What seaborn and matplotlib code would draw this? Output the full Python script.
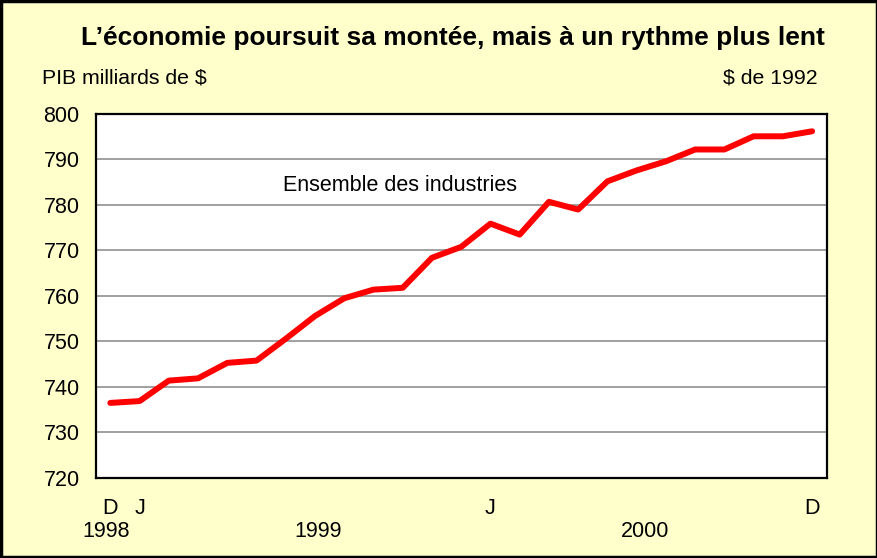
import matplotlib
matplotlib.use("Agg")
import matplotlib.pyplot as plt
import matplotlib.transforms as mtransforms
from matplotlib.patches import Rectangle
import pandas as pd
import seaborn as sns

# PIB, milliards de dollars de 1992, déc. 1998 à déc. 2000
months = list(range(25))
gdp = [736.5, 736.9, 741.4, 741.9, 745.3, 745.8, 750.6, 755.6, 759.5,
       761.4, 761.8, 768.4, 770.8, 775.9, 773.5, 780.7, 779.0, 785.2,
       787.6, 789.6, 792.2, 792.2, 795.1, 795.1, 796.2]
month_labels = {0: "D", 1: "J", 13: "J", 24: "D"}
year_labels = ["1998", "1999", "2000"]
year_pos = [-0.15, 7.1, 18.3]

df = pd.DataFrame({"mois": months, "pib": gdp})

sns.set_theme(style="white")
plt.rcParams["font.family"] = ["Liberation Sans", "DejaVu Sans"]
plt.rcParams["text.color"] = "black"

bg = "#FFFFCC"
fig = plt.figure(figsize=(8.78, 5.58), dpi=100, facecolor=bg)
ax = fig.add_axes([0.109, 0.1434, 0.8326, 0.6523])
ax.set_facecolor("white")

for v in range(730, 800, 10):
    ax.axhline(v, color="#999999", lw=1.3, zorder=1)

sns.lineplot(data=df, x="mois", y="pib", ax=ax, color="#FF0000", lw=4.3,
             solid_capstyle="round", zorder=3)

ax.set_xlim(-0.5, 24.5)
ax.set_ylim(720, 800)
ax.set_yticks(range(720, 801, 10))
ax.tick_params(axis="y", length=0, labelsize=15.5, pad=11.5, colors="black")
ax.set_xticks([m + 0.5 for m in range(24)])
ax.set_xticklabels([])
ax.tick_params(axis="x", direction="in", length=7, width=1.5, colors="black")
ax.set_xlabel("")
ax.set_ylabel("")

trans = mtransforms.blended_transform_factory(ax.transData, ax.transAxes)
for m, lab in month_labels.items():
    ax.text(m, -0.083, lab, transform=trans, ha="center", va="center", fontsize=15.5)
for p, lab in zip(year_pos, year_labels):
    ax.text(p, -0.148, lab, transform=trans, ha="center", va="center", fontsize=15.5)

for s in ax.spines.values():
    s.set_color("black")
    s.set_linewidth(1.6)

ax.text(9.9, 784.3, "Ensemble des industries", ha="center", va="center",
        fontsize=15.5, zorder=4,
        bbox=dict(facecolor="white", edgecolor="none", pad=2))

fig.text(453 / 878, 0.932, "L\u2019économie poursuit sa montée, mais à un rythme plus lent",
         ha="center", va="center", fontsize=19, fontweight="bold")
fig.text(42 / 878, 0.860, "PIB milliards de $", ha="left", va="center", fontsize=15.3)
fig.text(818 / 878, 0.860, "$ de 1992", ha="right", va="center", fontsize=15.3)

fig.patches.append(Rectangle((0.001, 0.001), 0.998, 0.998, transform=fig.transFigure,
                             fill=False, edgecolor="black", lw=2.5))

fig.savefig("out.png", dpi=100, facecolor=bg)
